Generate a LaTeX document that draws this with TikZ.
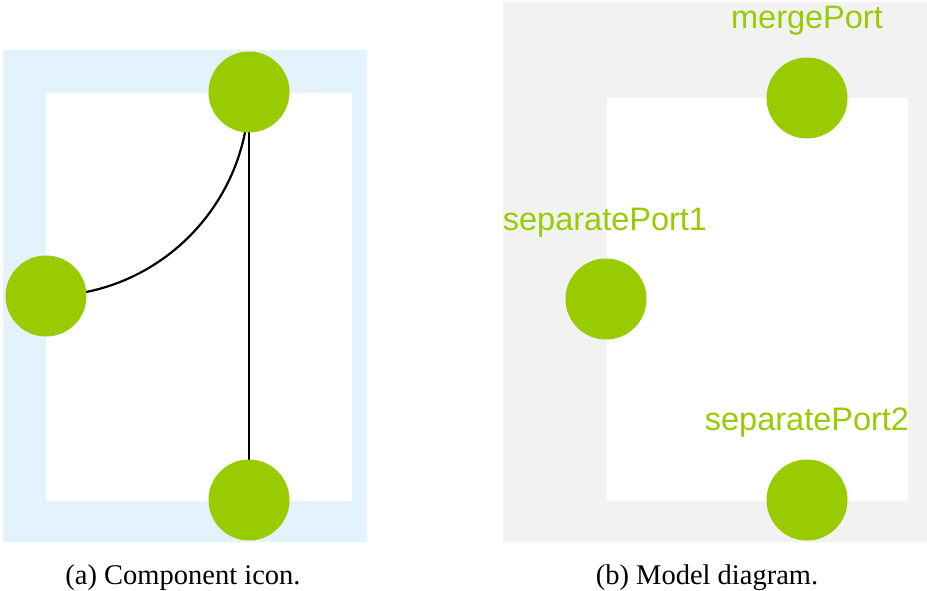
\documentclass[tikz,border=0pt]{standalone}
\usepackage{fontspec}
\setmainfont{Liberation Serif}
\newfontfamily\portfont{Liberation Sans}
\definecolor{portgreen}{HTML}{99CC00}
\definecolor{iconblue}{HTML}{E3F2FD}
\definecolor{diagramgray}{HTML}{F2F2F2}
\begin{document}
\begin{tikzpicture}[x=1pt,y=-1pt,
  port/.style={circle,fill=portgreen,minimum size=81pt,inner sep=0pt},
  wire/.style={line width=2.2pt,black},
  portlabel/.style={anchor=base,text=portgreen,font=\portfont\fontsize{32.5}{36}\selectfont,inner sep=0pt},
  caption/.style={anchor=base,font=\fontsize{28.5}{32}\selectfont,inner sep=0pt}]
\useasboundingbox (0,0) rectangle (927,591);

% (a) component icon
\fill[iconblue] (3,50) rectangle (367,542);
\fill[white] (46,93) rectangle (352,501);
\coordinate (mA) at (249,92);
\coordinate (s1A) at (46,296);
\coordinate (s2A) at (249,500);
\draw[wire] (s1A) to[out=0,in=-90,looseness=1] (mA);
\draw[wire] (mA) -- (s2A);
\node[port] (mergeA) at (mA) {};
\node[port] (sepA1) at (s1A) {};
\node[port] (sepA2) at (s2A) {};

% (b) model diagram
\fill[diagramgray] (503,2) rectangle (927,542);
\fill[white] (607,98) rectangle (908,501);
\node[port] (mergeB) at (807,98) {};
\node[port] (sepB1) at (606,299) {};
\node[port] (sepB2) at (807,500) {};
\node[portlabel] (lmerge) at (807,29) {mergePort};
\node[portlabel] (lsep1) at (605,230) {separatePort1};
\node[portlabel] (lsep2) at (807,430) {separatePort2};

% captions
\node[caption] (capa) at (183,584) {(a) Component icon.};
\node[caption] (capb) at (707,584) {(b) Model diagram.};
\end{tikzpicture}
\end{document}
